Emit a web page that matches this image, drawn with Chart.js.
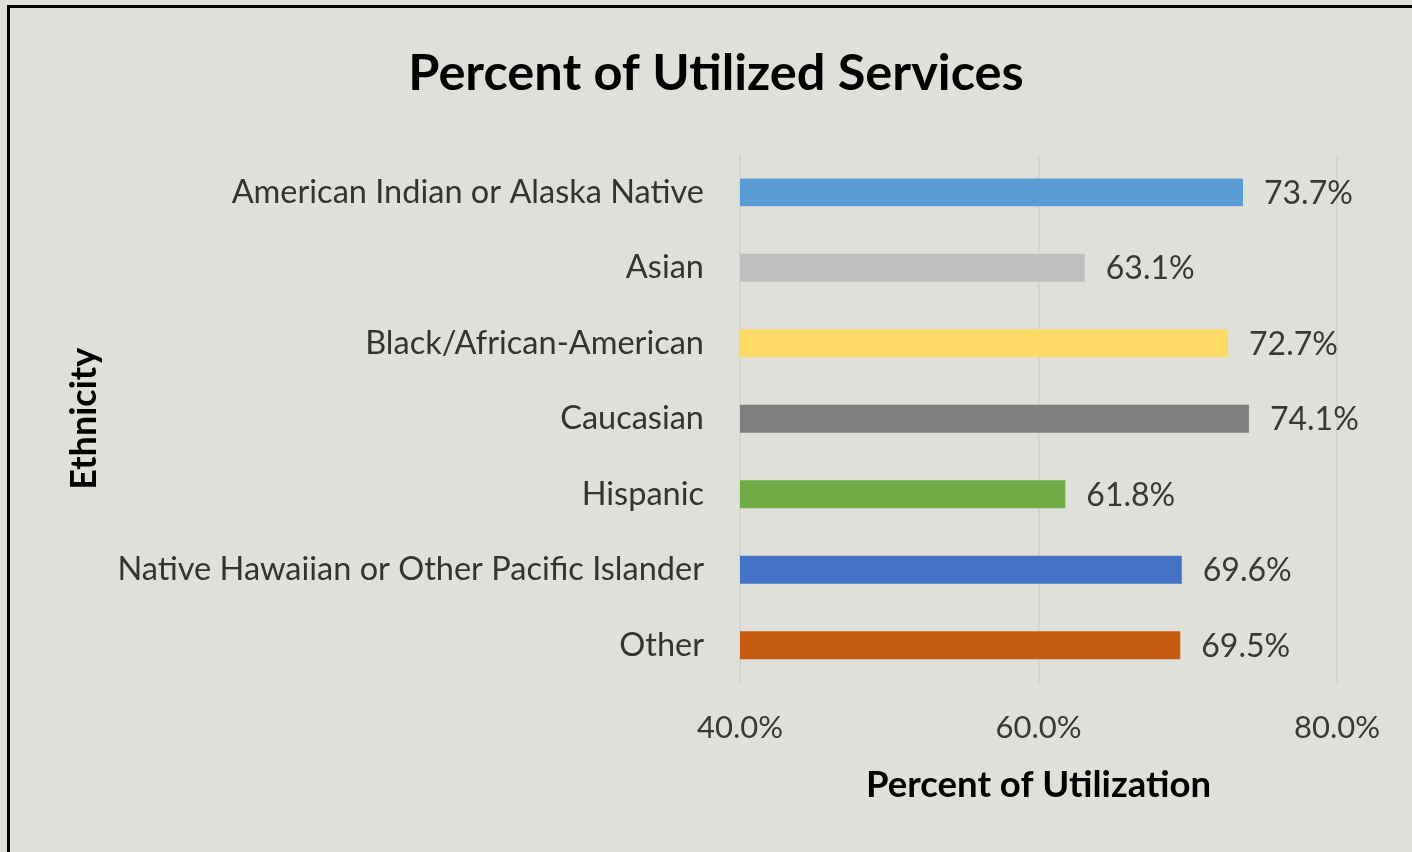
<!DOCTYPE html>
<html>
<head>
<meta charset="utf-8">
<script src="https://cdn.jsdelivr.net/npm/chart.js@4"></script>
<style>
  html, body { margin: 0; padding: 0; overflow: hidden; background: #e0e0da; }
  #wrap { position: relative; width: 1412px; height: 852px; }
  #frame { position: absolute; left: 7px; top: 5px; width: 1420px; height: 870px; border: 3px solid #000; box-sizing: border-box; pointer-events: none; }
  canvas { position: absolute; left: 0; top: 0; }
</style>
</head>
<body>
<div id="wrap">
  <canvas id="c" width="1412" height="852"></canvas>
  <div id="frame"></div>
</div>
<script>
const categories = [
  "American Indian or Alaska Native",
  "Asian",
  "Black/African-American",
  "Caucasian",
  "Hispanic",
  "Native Hawaiian or Other Pacific Islander",
  "Other"
];
const utilization = [73.7, 63.1, 72.7, 74.1, 61.8, 69.6, 69.5];
const barColors = ["#5B9BD5", "#BFBFBF", "#FFD966", "#7F7F7F", "#70AD47", "#4472C4", "#C55A11"];
const xTicks = [40, 60, 80];

const FONT = "Lato, 'Open Sans', sans-serif";

const valueLabels = {
  id: 'valueLabels',
  afterDatasetsDraw(chart) {
    const ctx = chart.ctx;
    const meta = chart.getDatasetMeta(0);
    ctx.save();
    ctx.font = "32px " + FONT;
    ctx.fillStyle = "#383838";
    ctx.textAlign = "left";
    ctx.textBaseline = "middle";
    meta.data.forEach((bar, i) => {
      ctx.fillText(utilization[i].toFixed(1) + "%", bar.x + 21, bar.y + 1);
    });
    ctx.restore();
  }
};

new Chart(document.getElementById('c'), {
  type: 'bar',
  data: {
    labels: categories,
    datasets: [{
      data: utilization,
      backgroundColor: barColors,
      borderWidth: 0,
      barPercentage: 0.37,
      categoryPercentage: 1.0
    }]
  },
  options: {
    indexAxis: 'y',
    responsive: false,
    animation: false,
    layout: { padding: { left: 20, right: 0, top: 0, bottom: 0 } },
    plugins: {
      legend: { display: false },
      tooltip: { enabled: false },
      title: {
        display: true,
        text: "Percent of Utilized Services",
        color: "#000",
        font: { family: FONT, size: 50.5, weight: 'bold' },
        padding: { top: 43, bottom: 51 }
      }
    },
    scales: {
      x: {
        min: 40, max: 80,
        afterBuildTicks(scale) { scale.ticks = xTicks.map(v => ({ value: v })); },
        afterFit(scale) { scale.height = 852 - 683; scale.paddingLeft = 0; scale.paddingRight = 75; },
        grid: { color: "#d4d4d0", lineWidth: 2, drawTicks: false },
        border: { display: false },
        ticks: {
          color: "#383838",
          padding: 26,
          font: { family: FONT, size: 31 },
          callback: v => v.toFixed(1) + "%"
        },
        title: {
          display: true,
          text: "Percent of Utilization",
          color: "#000",
          font: { family: FONT, size: 36.5, weight: 'bold' },
          padding: { top: 0, bottom: 45 }
        }
      },
      y: {
        afterFit(scale) { scale.width = 720; scale.paddingTop = 0; scale.paddingBottom = 0; },
        grid: { display: false, drawTicks: false },
        border: { display: false },
        ticks: {
          color: "#333333",
          padding: 36,
          font: { family: FONT, size: 32.5 }
        },
        title: {
          display: true,
          text: "Ethnicity",
          color: "#000",
          font: { family: FONT, size: 36, weight: 'bold' },
          padding: { top: 43, bottom: 0 }
        }
      }
    }
  },
  plugins: [valueLabels]
});
</script>
</body>
</html>
